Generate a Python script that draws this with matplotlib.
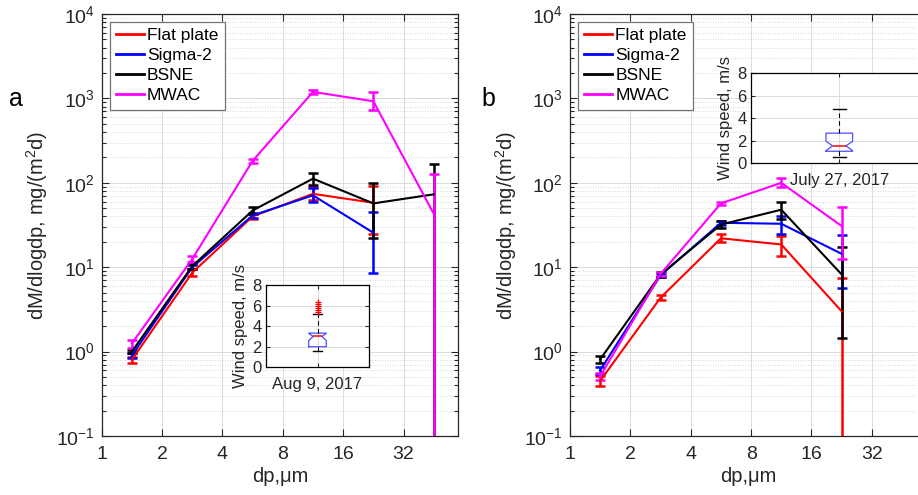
import matplotlib
matplotlib.use("Agg")
import matplotlib.pyplot as plt
from matplotlib.ticker import FixedLocator, FixedFormatter, LogLocator, NullFormatter
from matplotlib.lines import Line2D
import numpy as np

plt.rcParams['font.family'] = ['Liberation Sans', 'DejaVu Sans']
plt.rcParams['mathtext.default'] = 'regular'

# ---------------- data ----------------
series_names = ["Flat plate", "Sigma-2", "BSNE", "MWAC"]
series_colors = ["#ff0000", "#0000ff", "#000000", "#ff00ff"]

dp_a = [1.414, 2.828, 5.657, 11.31, 22.63, 45.25]
dp_b = [1.414, 2.828, 5.657, 11.31, 22.63]

# panel a : values, lower error, upper error
a_flat = [0.80, 8.6, 40, 74, 58]
a_flat_lo = [0.07, 0.8, 2.5, 12, 33]
a_flat_hi = [0.07, 0.8, 2.5, 14, 33]
a_sigma = [0.90, 10.0, 41, 71, 25.6]
a_sigma_lo = [0.06, 0.6, 2.5, 11, 17]
a_sigma_hi = [0.06, 0.6, 2.5, 16, 19]
a_bsne = [1.0, 10.3, 47, 112, 57, 73]
a_bsne_lo = [0.05, 0.7, 4, 17, 35, 96]
a_bsne_hi = [0.05, 0.7, 4, 17, 43, 96]
a_mwac = [1.25, 12.5, 182, 1194, 925, 43]
a_mwac_lo = [0.14, 1.0, 9, 60, 200, 85]
a_mwac_hi = [0.14, 1.0, 9, 60, 250, 85]

# panel b
b_flat = [0.45, 4.35, 22, 18.6, 3.0]
b_flat_lo = [0.06, 0.3, 2.0, 5.1, 4.4]
b_flat_hi = [0.06, 0.3, 2.5, 5.1, 4.4]
b_sigma = [0.60, 8.0, 33.6, 32.7, 14.4]
b_sigma_lo = [0.05, 0.4, 2.0, 7.7, 8.8]
b_sigma_hi = [0.05, 0.4, 2.0, 7.7, 9.4]
b_bsne = [0.81, 8.2, 32, 48, 8.2]
b_bsne_lo = [0.07, 0.6, 3, 11, 6.75]
b_bsne_hi = [0.07, 0.6, 3, 11, 9.1]
b_mwac = [0.51, 8.3, 57, 100, 30.7]
b_mwac_lo = [0.05, 0.4, 3, 12, 18.2]
b_mwac_hi = [0.05, 0.4, 3, 15, 20.5]

xticks = [1, 2, 4, 8, 16, 32]
xtick_labels = ["1", "2", "4", "8", "16", "32"]

# wind speed box plot statistics (m/s)
wind_a = dict(med=3.0, q1=2.0, q3=3.32, whislo=1.6, whishi=5.18,
              cilo=2.6, cihi=3.3, fliers=[5.34, 5.57, 5.79, 5.99, 6.2, 6.38],
              label="Aug 9, 2017")
wind_b = dict(med=1.55, q1=1.07, q3=2.68, whislo=0.54, whishi=4.84,
              cilo=1.13, cihi=1.95, fliers=[], label="July 27, 2017")

GREY = (0.15, 0.15, 0.15)

# ---------------- figure ----------------
fig = plt.figure(figsize=(9.18, 4.95), dpi=100)

ax_w = 356.6 / 918
ax_h = 422 / 495
ax_b = 1 - 436 / 495
axA = fig.add_axes([101.7 / 918, ax_b, ax_w, ax_h])
axB = fig.add_axes([570 / 918, ax_b, ax_w, ax_h])


def style_main(ax):
    ax.set_xscale('log', base=2)
    ax.set_yscale('log')
    ax.set_xlim(1, 60)
    ax.set_ylim(0.1, 1e4)
    ax.xaxis.set_major_locator(FixedLocator(xticks))
    ax.xaxis.set_major_formatter(FixedFormatter(xtick_labels))
    ax.xaxis.set_minor_locator(FixedLocator([]))
    ax.yaxis.set_major_locator(LogLocator(base=10, numticks=10))
    ax.yaxis.set_minor_locator(LogLocator(base=10, subs=np.arange(2, 10), numticks=20))
    ax.yaxis.set_minor_formatter(NullFormatter())
    ax.tick_params(which='both', direction='in', top=True, right=True,
                   colors=GREY, labelsize=14, width=0.8)
    ax.tick_params(which='major', length=5, pad=5)
    ax.tick_params(which='minor', length=3)
    ax.tick_params(axis='x', which='major', pad=7)
    ax.grid(True, which='major', color=(0.86, 0.86, 0.86), lw=0.7, ls='-')
    ax.grid(True, which='minor', axis='y', color=(0.8, 0.8, 0.8), lw=0.6, ls=(0, (1, 2)))
    ax.set_axisbelow(True)
    for s in ax.spines.values():
        s.set_color(GREY)
        s.set_linewidth(0.9)
    ax.set_xlabel("dp,μm", fontsize=14.5, color=GREY, labelpad=3)
    ax.set_ylabel("dM/dlogdp, mg/(m$^2$d)", fontsize=14.5, color=GREY, labelpad=4)


def draw_series(ax, x, ys):
    for (y, lo, hi), name, col in zip(ys, series_names, series_colors):
        n = len(y)
        ax.errorbar(x[:n], y, yerr=[lo, hi], color=col, lw=1.5,
                    elinewidth=1.8, capsize=3.6, capthick=1.8, label=name)


style_main(axA)
style_main(axB)

draw_series(axA, dp_a, [(a_flat, a_flat_lo, a_flat_hi),
                        (a_sigma, a_sigma_lo, a_sigma_hi),
                        (a_bsne, a_bsne_lo, a_bsne_hi),
                        (a_mwac, a_mwac_lo, a_mwac_hi)])
draw_series(axB, dp_b, [(b_flat, b_flat_lo, b_flat_hi),
                        (b_sigma, b_sigma_lo, b_sigma_hi),
                        (b_bsne, b_bsne_lo, b_bsne_hi),
                        (b_mwac, b_mwac_lo, b_mwac_hi)])

leg_handles = [Line2D([], [], color=c, lw=2) for c in series_colors]
for ax in (axA, axB):
    leg = ax.legend(leg_handles, series_names, loc='upper left',
                    bbox_to_anchor=(0.008, 0.993), fontsize=12.5,
                    handlelength=1.6, handletextpad=0.2, borderpad=0.35,
                    labelspacing=0.28, borderaxespad=0.3, fancybox=False,
                    framealpha=1, edgecolor=(0.45, 0.45, 0.45))
    leg.get_frame().set_linewidth(0.9)

fig.text(16 / 918, 1 - 99 / 495, "a", fontsize=18, ha='center', va='center')
fig.text(488 / 918, 1 - 99 / 495, "b", fontsize=18, ha='center', va='center')

# ---------------- insets ----------------
insA = fig.add_axes([265.7 / 918, 1 - 367.3 / 495, 103.6 / 918, 82.3 / 495])
insB = fig.add_axes([750.7 / 918, 1 - 163.3 / 495, 177.2 / 918, 90 / 495])


def draw_inset(ax, st, width):
    stats = [dict(med=st['med'], q1=st['q1'], q3=st['q3'], whislo=st['whislo'],
                  whishi=st['whishi'], cilo=st['cilo'], cihi=st['cihi'],
                  fliers=st['fliers'])]
    ax.bxp(stats, positions=[1], widths=width, shownotches=True,
           boxprops=dict(color='#4d4dff', lw=0.9),
           medianprops=dict(color='red', lw=1.1),
           whiskerprops=dict(color='black', lw=0.8, ls=(0, (4, 3))),
           capprops=dict(color='black', lw=1.0),
           flierprops=dict(marker='+', markeredgecolor='red', markersize=5,
                           markeredgewidth=0.9, linestyle='none'),
           capwidths=width * 0.5)
    ax.set_xlim(0.5, 1.5)
    ax.set_ylim(0, 8)
    ax.set_yticks([0, 2, 4, 6, 8])
    ax.set_xticks([1])
    ax.set_xticklabels([st['label']])
    ax.tick_params(direction='in', labelsize=12, colors=GREY, length=3,
                   top=True, right=True, pad=3)
    ax.tick_params(axis='x', pad=7)
    ax.grid(True, color=(0.86, 0.86, 0.86), lw=0.7)
    ax.set_axisbelow(True)
    for s in ax.spines.values():
        s.set_color('black')
        s.set_linewidth(0.9)
    ax.set_ylabel("Wind speed, m/s", fontsize=12, color=GREY, labelpad=3)
    ax.set_facecolor('white')


draw_inset(insA, wind_a, 0.17)
draw_inset(insB, wind_b, 0.15)

fig.savefig("out.png", dpi=100)
